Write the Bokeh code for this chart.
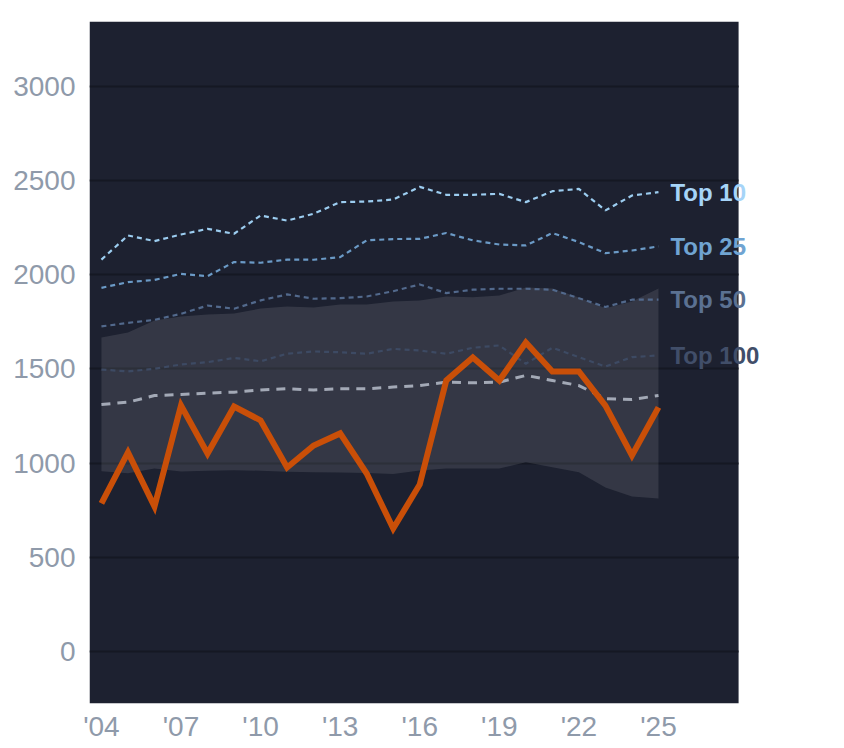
from bokeh.plotting import figure
from bokeh.models import Label, FixedTicker, BoxAnnotation
from bokeh.embed import file_html
from bokeh.resources import INLINE

years = list(range(2004, 2026))
team = [786, 1057, 770, 1306, 1051, 1301, 1227, 977, 1094, 1158, 945, 653,
        887, 1439, 1561, 1439, 1641, 1487, 1487, 1306, 1041, 1296]
band_low = [957, 947, 972, 956, 960, 962, 960, 955, 952, 950, 948, 942,
            961, 972, 972, 972, 1005, 979, 952, 871, 823, 812]
band_high = [1667, 1694, 1758, 1779, 1789, 1795, 1821, 1832, 1827, 1842, 1842, 1858,
             1864, 1885, 1881, 1890, 1933, 1927, 1880, 1822, 1859, 1927]
median = [1312, 1324, 1359, 1365, 1372, 1377, 1389, 1395, 1389, 1395, 1395, 1404,
          1412, 1430, 1427, 1430, 1466, 1439, 1412, 1342, 1338, 1359]
top10 = [2081, 2209, 2179, 2214, 2244, 2218, 2315, 2288, 2324, 2386, 2389, 2400,
         2467, 2425, 2425, 2430, 2386, 2444, 2456, 2342, 2421, 2439]
top25 = [1931, 1961, 1973, 2005, 1993, 2068, 2064, 2081, 2080, 2094, 2183, 2190,
         2191, 2222, 2183, 2161, 2156, 2222, 2174, 2115, 2129, 2151]
top50 = [1726, 1745, 1761, 1793, 1837, 1820, 1864, 1896, 1873, 1876, 1885, 1913,
         1949, 1903, 1921, 1926, 1926, 1921, 1876, 1829, 1868, 1868]
top100 = [1497, 1487, 1501, 1524, 1536, 1559, 1541, 1581, 1593, 1589, 1581, 1607,
          1598, 1581, 1613, 1625, 1528, 1613, 1563, 1513, 1563, 1572]
tier_names = ["Top 10", "Top 25", "Top 50", "Top 100"]
tier_colors = ["#9ccdf0", "#6b9ac6", "#52698c", "#3d4a63"]
label_colors = ["#a6d4f8", "#70a4d2", "#5b7192", "#414e69"]
x_ticks = [2004, 2007, 2010, 2013, 2016, 2019, 2022, 2025]
y_ticks = [0, 500, 1000, 1500, 2000, 2500, 3000]

x_start, x_panel_end, x_end = 2003.55, 2028.02, 2029.6
y_start, y_end = -276, 3345

p = figure(width=800, height=740, output_backend="svg", toolbar_location=None,
           x_range=(x_start, x_end), y_range=(y_start, y_end),
           min_border_left=89, min_border_top=21, min_border_right=20, min_border_bottom=37)
p.frame_width = 691
p.frame_height = 682
p.background_fill_color = "white"
p.border_fill_color = "white"
p.outline_line_color = None

# dark panel, ending before the labels' overflow area
p.add_layout(BoxAnnotation(left=x_start, right=x_panel_end, fill_color="#1d2130",
                           fill_alpha=1.0, line_color=None, level="image"))

p.xgrid.grid_line_color = None
p.ygrid.grid_line_color = "#151823"
p.ygrid.grid_line_width = 2
p.ygrid.ticker = FixedTicker(ticks=y_ticks)
p.ygrid.cross_bounds = (x_start, x_panel_end)

p.xaxis.ticker = FixedTicker(ticks=x_ticks)
p.xaxis.major_label_overrides = {y: "'" + str(y)[2:] for y in x_ticks}
p.yaxis.ticker = FixedTicker(ticks=y_ticks)
for ax in (p.xaxis, p.yaxis):
    ax.axis_line_color = None
    ax.major_tick_line_color = None
    ax.minor_tick_line_color = None
    ax.major_tick_out = 0
    ax.major_tick_in = 0
    ax.major_label_text_color = "#8f9aaa"
    ax.major_label_text_font = "Liberation Sans"
    ax.major_label_text_font_size = "28px"
p.yaxis.major_label_standoff = 14
p.xaxis.major_label_standoff = 7

p.varea(x=years, y1=band_low, y2=band_high, fill_color="#ffffff", fill_alpha=0.1)

p.line(years, median, line_color="#a3a9b6", line_width=3, line_dash="9 7")
for vals, col in zip([top100, top50, top25, top10], tier_colors[::-1]):
    p.line(years, vals, line_color=col, line_width=2.2, line_dash="5 4")

p.line(years, team, line_color="#c94f08", line_width=6, line_join="miter")

for name, vals, col in zip(tier_names, [top10, top25, top50, top100], label_colors):
    p.add_layout(Label(x=2025.45, y=vals[-1], text=name, text_color=col,
                       text_font="Liberation Sans", text_font_style="bold",
                       text_font_size="24px", text_baseline="middle", text_align="left"))

open("out.html", "w").write(file_html(p, INLINE))
